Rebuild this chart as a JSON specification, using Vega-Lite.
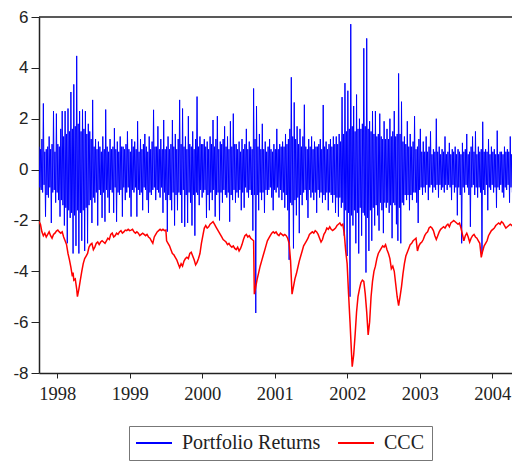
{
"$schema":"https://vega.github.io/schema/vega-lite/v6.json",
"width":473,"height":356,
"autosize":"none",
"padding":{"left":39,"top":17,"right":0,"bottom":89},
"background":"white",
"config":{"view":{"stroke":null}},
"datasets":{
"ret":[
{"t":1998.25,"v":0.9},{"t":1998.26,"v":-0.7},{"t":1998.27,"v":0.8},{"t":1998.28,"v":-0.8},{"t":1998.29,"v":1.2},{"t":1998.30,"v":-0.9},{"t":1998.31,"v":2.6},{"t":1998.32,"v":-0.6},{"t":1998.33,"v":0.7},{"t":1998.34,"v":-1.85},
{"t":1998.35,"v":0.8},{"t":1998.36,"v":-1.0},{"t":1998.37,"v":0.9},{"t":1998.38,"v":-1.1},{"t":1998.39,"v":1.3},{"t":1998.40,"v":-0.7},{"t":1998.41,"v":0.8},{"t":1998.42,"v":-2.1},{"t":1998.43,"v":1.0},{"t":1998.44,"v":-0.9},
{"t":1998.45,"v":2.3},{"t":1998.46,"v":-0.8},{"t":1998.47,"v":0.7},{"t":1998.48,"v":-1.3},{"t":1998.49,"v":2.2},{"t":1998.50,"v":-0.9},{"t":1998.51,"v":1.0},{"t":1998.52,"v":-1.2},{"t":1998.53,"v":0.9},{"t":1998.54,"v":-1.85},
{"t":1998.55,"v":1.6},{"t":1998.56,"v":-1.2},{"t":1998.57,"v":2.3},{"t":1998.58,"v":-1.4},{"t":1998.59,"v":1.3},{"t":1998.60,"v":-2.2},{"t":1998.61,"v":2.3},{"t":1998.62,"v":-1.5},{"t":1998.63,"v":1.4},{"t":1998.64,"v":-2.9},
{"t":1998.65,"v":2.4},{"t":1998.66,"v":-1.6},{"t":1998.67,"v":1.5},{"t":1998.68,"v":-1.9},{"t":1998.69,"v":3.05},{"t":1998.70,"v":-1.7},{"t":1998.71,"v":1.6},{"t":1998.72,"v":-3.3},{"t":1998.73,"v":3.35},{"t":1998.74,"v":-1.8},
{"t":1998.75,"v":1.7},{"t":1998.76,"v":-3.0},{"t":1998.77,"v":4.47},{"t":1998.78,"v":-1.6},{"t":1998.79,"v":1.8},{"t":1998.80,"v":-3.3},{"t":1998.81,"v":2.3},{"t":1998.82,"v":-1.7},{"t":1998.83,"v":1.5},{"t":1998.84,"v":-2.8},
{"t":1998.85,"v":2.36},{"t":1998.86,"v":-1.6},{"t":1998.87,"v":1.6},{"t":1998.88,"v":-3.2},{"t":1998.89,"v":2.3},{"t":1998.90,"v":-1.5},{"t":1998.91,"v":1.4},{"t":1998.92,"v":-2.9},{"t":1998.93,"v":1.8},{"t":1998.94,"v":-1.4},
{"t":1998.95,"v":1.5},{"t":1998.96,"v":-1.2},{"t":1998.97,"v":1.2},{"t":1998.98,"v":-2.1},{"t":1998.99,"v":2.74},{"t":1999.00,"v":-1.1},{"t":1999.01,"v":0.9},{"t":1999.02,"v":-1.3},{"t":1999.03,"v":1.2},{"t":1999.04,"v":-0.9},
{"t":1999.05,"v":0.8},{"t":1999.06,"v":-2.2},{"t":1999.07,"v":1.1},{"t":1999.08,"v":-0.8},{"t":1999.09,"v":0.9},{"t":1999.10,"v":-1.0},{"t":1999.11,"v":0.7},{"t":1999.12,"v":-1.9},{"t":1999.13,"v":1.3},{"t":1999.14,"v":-0.9},
{"t":1999.15,"v":0.8},{"t":1999.16,"v":-2.05},{"t":1999.17,"v":2.36},{"t":1999.18,"v":-0.8},{"t":1999.19,"v":0.9},{"t":1999.20,"v":-1.1},{"t":1999.21,"v":0.7},{"t":1999.22,"v":-1.7},{"t":1999.23,"v":1.2},{"t":1999.24,"v":-0.8},
{"t":1999.25,"v":0.8},{"t":1999.26,"v":-0.9},{"t":1999.27,"v":0.9},{"t":1999.28,"v":-1.7},{"t":1999.29,"v":1.63},{"t":1999.30,"v":-0.7},{"t":1999.31,"v":0.8},{"t":1999.32,"v":-2.05},{"t":1999.33,"v":1.1},{"t":1999.34,"v":-0.9},
{"t":1999.35,"v":0.7},{"t":1999.36,"v":-1.0},{"t":1999.37,"v":1.3},{"t":1999.38,"v":-0.8},{"t":1999.39,"v":0.9},{"t":1999.40,"v":-1.85},{"t":1999.41,"v":0.9},{"t":1999.42,"v":-0.7},{"t":1999.43,"v":0.8},{"t":1999.44,"v":-1.2},
{"t":1999.45,"v":1.0},{"t":1999.46,"v":-0.9},{"t":1999.47,"v":1.5},{"t":1999.48,"v":-0.7},{"t":1999.49,"v":0.8},{"t":1999.50,"v":-1.1},{"t":1999.51,"v":0.7},{"t":1999.52,"v":-1.85},{"t":1999.53,"v":1.2},{"t":1999.54,"v":-0.8},
{"t":1999.55,"v":0.9},{"t":1999.56,"v":-0.9},{"t":1999.57,"v":1.1},{"t":1999.58,"v":-0.7},{"t":1999.59,"v":0.8},{"t":1999.60,"v":-1.85},{"t":1999.61,"v":1.9},{"t":1999.62,"v":-0.8},{"t":1999.63,"v":0.7},{"t":1999.64,"v":-1.0},
{"t":1999.65,"v":1.2},{"t":1999.66,"v":-0.9},{"t":1999.67,"v":0.8},{"t":1999.68,"v":-1.6},{"t":1999.69,"v":1.0},{"t":1999.70,"v":-0.7},{"t":1999.71,"v":1.4},{"t":1999.72,"v":-0.8},{"t":1999.73,"v":0.9},{"t":1999.74,"v":-1.2},
{"t":1999.75,"v":0.7},{"t":1999.76,"v":-1.7},{"t":1999.77,"v":1.3},{"t":1999.78,"v":-0.9},{"t":1999.79,"v":0.8},{"t":1999.80,"v":-1.0},{"t":1999.81,"v":1.1},{"t":1999.82,"v":-0.8},{"t":1999.83,"v":2.35},{"t":1999.84,"v":-0.7},
{"t":1999.85,"v":0.9},{"t":1999.86,"v":-1.2},{"t":1999.87,"v":0.9},{"t":1999.88,"v":-0.8},{"t":1999.89,"v":1.7},{"t":1999.90,"v":-0.9},{"t":1999.91,"v":0.8},{"t":1999.92,"v":-1.1},{"t":1999.93,"v":1.2},{"t":1999.94,"v":-0.7},
{"t":1999.95,"v":0.8},{"t":1999.96,"v":-1.7},{"t":1999.97,"v":1.95},{"t":1999.98,"v":-0.9},{"t":1999.99,"v":0.8},{"t":2000.00,"v":-1.2},{"t":2000.01,"v":0.9},{"t":2000.02,"v":-2.44},{"t":2000.03,"v":1.3},{"t":2000.04,"v":-1.0},
{"t":2000.05,"v":0.8},{"t":2000.06,"v":-1.2},{"t":2000.07,"v":1.0},{"t":2000.08,"v":-1.6},{"t":2000.09,"v":1.95},{"t":2000.10,"v":-0.9},{"t":2000.11,"v":0.9},{"t":2000.12,"v":-2.2},{"t":2000.13,"v":1.4},{"t":2000.14,"v":-1.0},
{"t":2000.15,"v":0.8},{"t":2000.16,"v":-1.6},{"t":2000.17,"v":1.2},{"t":2000.18,"v":-0.9},{"t":2000.19,"v":2.74},{"t":2000.20,"v":-1.0},{"t":2000.21,"v":1.0},{"t":2000.22,"v":-2.1},{"t":2000.23,"v":2.4},{"t":2000.24,"v":-0.8},
{"t":2000.25,"v":0.9},{"t":2000.26,"v":-2.25},{"t":2000.27,"v":1.3},{"t":2000.28,"v":-1.0},{"t":2000.29,"v":0.8},{"t":2000.30,"v":-2.1},{"t":2000.31,"v":2.1},{"t":2000.32,"v":-0.9},{"t":2000.33,"v":1.0},{"t":2000.34,"v":-1.3},
{"t":2000.35,"v":0.9},{"t":2000.36,"v":-2.2},{"t":2000.37,"v":1.5},{"t":2000.38,"v":-1.0},{"t":2000.39,"v":0.8},{"t":2000.40,"v":-2.6},{"t":2000.41,"v":1.2},{"t":2000.42,"v":-0.9},{"t":2000.43,"v":2.87},{"t":2000.44,"v":-1.0},
{"t":2000.45,"v":0.9},{"t":2000.46,"v":-1.4},{"t":2000.47,"v":1.3},{"t":2000.48,"v":-0.8},{"t":2000.49,"v":1.0},{"t":2000.50,"v":-1.1},{"t":2000.51,"v":1.0},{"t":2000.52,"v":-0.9},{"t":2000.53,"v":1.2},{"t":2000.54,"v":-0.8},
{"t":2000.55,"v":0.9},{"t":2000.56,"v":-1.9},{"t":2000.57,"v":1.1},{"t":2000.58,"v":-1.0},{"t":2000.59,"v":0.8},{"t":2000.60,"v":-1.6},{"t":2000.61,"v":1.3},{"t":2000.62,"v":-0.9},{"t":2000.63,"v":1.0},{"t":2000.64,"v":-1.2},
{"t":2000.65,"v":1.95},{"t":2000.66,"v":-0.8},{"t":2000.67,"v":0.9},{"t":2000.68,"v":-1.85},{"t":2000.69,"v":1.2},{"t":2000.70,"v":-1.0},{"t":2000.71,"v":2.1},{"t":2000.72,"v":-0.9},{"t":2000.73,"v":0.8},{"t":2000.74,"v":-2.0},
{"t":2000.75,"v":1.1},{"t":2000.76,"v":-0.9},{"t":2000.77,"v":1.0},{"t":2000.78,"v":-1.3},{"t":2000.79,"v":1.2},{"t":2000.80,"v":-0.8},{"t":2000.81,"v":1.7},{"t":2000.82,"v":-1.0},{"t":2000.83,"v":0.9},{"t":2000.84,"v":-1.1},
{"t":2000.85,"v":1.3},{"t":2000.86,"v":-0.9},{"t":2000.87,"v":0.8},{"t":2000.88,"v":-2.05},{"t":2000.89,"v":1.9},{"t":2000.90,"v":-1.0},{"t":2000.91,"v":0.9},{"t":2000.92,"v":-1.2},{"t":2000.93,"v":2.2},{"t":2000.94,"v":-0.8},
{"t":2000.95,"v":1.0},{"t":2000.96,"v":-1.3},{"t":2000.97,"v":1.0},{"t":2000.98,"v":-0.9},{"t":2000.99,"v":0.8},{"t":2001.00,"v":-1.1},{"t":2001.01,"v":1.1},{"t":2001.02,"v":-0.8},{"t":2001.03,"v":0.7},{"t":2001.04,"v":-1.6},
{"t":2001.05,"v":1.2},{"t":2001.06,"v":-0.9},{"t":2001.07,"v":0.8},{"t":2001.08,"v":-1.5},{"t":2001.09,"v":1.0},{"t":2001.10,"v":-0.7},{"t":2001.11,"v":1.6},{"t":2001.12,"v":-0.9},{"t":2001.13,"v":0.8},{"t":2001.14,"v":-1.1},
{"t":2001.15,"v":1.1},{"t":2001.16,"v":-0.8},{"t":2001.17,"v":0.9},{"t":2001.18,"v":-1.0},{"t":2001.19,"v":0.8},{"t":2001.20,"v":-2.4},{"t":2001.21,"v":3.19},{"t":2001.22,"v":-1.0},{"t":2001.23,"v":1.2},{"t":2001.24,"v":-5.64},
{"t":2001.25,"v":2.5},{"t":2001.26,"v":-1.0},{"t":2001.27,"v":0.9},{"t":2001.28,"v":-1.6},{"t":2001.29,"v":1.4},{"t":2001.30,"v":-0.9},{"t":2001.31,"v":0.8},{"t":2001.32,"v":-1.2},{"t":2001.33,"v":1.8},{"t":2001.34,"v":-0.9},
{"t":2001.35,"v":0.8},{"t":2001.36,"v":-1.7},{"t":2001.37,"v":1.1},{"t":2001.38,"v":-0.8},{"t":2001.39,"v":0.7},{"t":2001.40,"v":-1.0},{"t":2001.41,"v":0.9},{"t":2001.42,"v":-0.8},{"t":2001.43,"v":1.2},{"t":2001.44,"v":-0.7},
{"t":2001.45,"v":0.8},{"t":2001.46,"v":-1.1},{"t":2001.47,"v":0.7},{"t":2001.48,"v":-1.6},{"t":2001.49,"v":1.0},{"t":2001.50,"v":-0.8},{"t":2001.51,"v":0.8},{"t":2001.52,"v":-0.9},{"t":2001.53,"v":1.6},{"t":2001.54,"v":-0.7},
{"t":2001.55,"v":0.8},{"t":2001.56,"v":-1.1},{"t":2001.57,"v":1.0},{"t":2001.58,"v":-0.8},{"t":2001.59,"v":0.9},{"t":2001.60,"v":-1.2},{"t":2001.61,"v":1.1},{"t":2001.62,"v":-0.9},{"t":2001.63,"v":0.9},{"t":2001.64,"v":-1.5},
{"t":2001.65,"v":1.4},{"t":2001.66,"v":-1.0},{"t":2001.67,"v":1.0},{"t":2001.68,"v":-1.6},{"t":2001.69,"v":1.2},{"t":2001.70,"v":-3.55},{"t":2001.71,"v":1.6},{"t":2001.72,"v":-1.3},{"t":2001.73,"v":3.63},{"t":2001.74,"v":-1.4},
{"t":2001.75,"v":1.3},{"t":2001.76,"v":-3.1},{"t":2001.77,"v":2.64},{"t":2001.78,"v":-1.2},{"t":2001.79,"v":1.2},{"t":2001.80,"v":-1.8},{"t":2001.81,"v":1.7},{"t":2001.82,"v":-1.1},{"t":2001.83,"v":1.0},{"t":2001.84,"v":-2.5},
{"t":2001.85,"v":1.6},{"t":2001.86,"v":-1.0},{"t":2001.87,"v":0.9},{"t":2001.88,"v":-1.4},{"t":2001.89,"v":1.3},{"t":2001.90,"v":-0.9},{"t":2001.91,"v":2.55},{"t":2001.92,"v":-0.8},{"t":2001.93,"v":0.9},{"t":2001.94,"v":-1.2},
{"t":2001.95,"v":0.8},{"t":2001.96,"v":-1.9},{"t":2001.97,"v":1.2},{"t":2001.98,"v":-0.8},{"t":2001.99,"v":0.9},{"t":2002.00,"v":-1.1},{"t":2002.01,"v":1.3},{"t":2002.02,"v":-0.9},{"t":2002.03,"v":0.8},{"t":2002.04,"v":-1.2},
{"t":2002.05,"v":1.1},{"t":2002.06,"v":-0.9},{"t":2002.07,"v":0.9},{"t":2002.08,"v":-1.7},{"t":2002.09,"v":0.9},{"t":2002.10,"v":-0.8},{"t":2002.11,"v":1.0},{"t":2002.12,"v":-1.1},{"t":2002.13,"v":1.2},{"t":2002.14,"v":-0.9},
{"t":2002.15,"v":0.8},{"t":2002.16,"v":-1.3},{"t":2002.17,"v":2.54},{"t":2002.18,"v":-1.0},{"t":2002.19,"v":0.9},{"t":2002.20,"v":-1.2},{"t":2002.21,"v":1.1},{"t":2002.22,"v":-0.9},{"t":2002.23,"v":0.8},{"t":2002.24,"v":-1.6},
{"t":2002.25,"v":1.0},{"t":2002.26,"v":-0.9},{"t":2002.27,"v":1.2},{"t":2002.28,"v":-1.0},{"t":2002.29,"v":0.9},{"t":2002.30,"v":-1.3},{"t":2002.31,"v":1.3},{"t":2002.32,"v":-1.0},{"t":2002.33,"v":1.0},{"t":2002.34,"v":-1.7},
{"t":2002.35,"v":1.3},{"t":2002.36,"v":-1.1},{"t":2002.37,"v":1.0},{"t":2002.38,"v":-1.85},{"t":2002.39,"v":1.4},{"t":2002.40,"v":-1.1},{"t":2002.41,"v":1.1},{"t":2002.42,"v":-1.5},{"t":2002.43,"v":2.85},{"t":2002.44,"v":-1.3},
{"t":2002.45,"v":1.4},{"t":2002.46,"v":-2.6},{"t":2002.47,"v":3.4},{"t":2002.48,"v":-1.6},{"t":2002.49,"v":1.5},{"t":2002.50,"v":-3.4},{"t":2002.51,"v":3.1},{"t":2002.52,"v":-1.7},{"t":2002.53,"v":1.6},{"t":2002.54,"v":-5.0},
{"t":2002.55,"v":5.72},{"t":2002.56,"v":-1.8},{"t":2002.57,"v":1.7},{"t":2002.58,"v":-2.2},{"t":2002.59,"v":2.5},{"t":2002.60,"v":-1.6},{"t":2002.61,"v":1.5},{"t":2002.62,"v":-2.9},{"t":2002.63,"v":2.95},{"t":2002.64,"v":-1.7},
{"t":2002.65,"v":1.6},{"t":2002.66,"v":-3.3},{"t":2002.67,"v":2.0},{"t":2002.68,"v":-1.5},{"t":2002.69,"v":1.6},{"t":2002.70,"v":-2.6},{"t":2002.71,"v":1.8},{"t":2002.72,"v":-1.7},{"t":2002.73,"v":4.77},{"t":2002.74,"v":-1.8},
{"t":2002.75,"v":1.7},{"t":2002.76,"v":-4.05},{"t":2002.77,"v":5.16},{"t":2002.78,"v":-1.9},{"t":2002.79,"v":1.6},{"t":2002.80,"v":-3.2},{"t":2002.81,"v":1.9},{"t":2002.82,"v":-1.6},{"t":2002.83,"v":1.5},{"t":2002.84,"v":-2.8},
{"t":2002.85,"v":2.3},{"t":2002.86,"v":-1.5},{"t":2002.87,"v":1.4},{"t":2002.88,"v":-2.2},{"t":2002.89,"v":2.3},{"t":2002.90,"v":-1.4},{"t":2002.91,"v":1.3},{"t":2002.92,"v":-1.8},{"t":2002.93,"v":1.4},{"t":2002.94,"v":-2.4},
{"t":2002.95,"v":2.2},{"t":2002.96,"v":-1.3},{"t":2002.97,"v":1.3},{"t":2002.98,"v":-1.6},{"t":2002.99,"v":1.2},{"t":2003.00,"v":-2.5},{"t":2003.01,"v":1.9},{"t":2003.02,"v":-1.3},{"t":2003.03,"v":1.2},{"t":2003.04,"v":-1.5},
{"t":2003.05,"v":1.6},{"t":2003.06,"v":-1.3},{"t":2003.07,"v":1.2},{"t":2003.08,"v":-1.7},{"t":2003.09,"v":2.0},{"t":2003.10,"v":-1.4},{"t":2003.11,"v":1.3},{"t":2003.12,"v":-2.7},{"t":2003.13,"v":1.5},{"t":2003.14,"v":-1.3},
{"t":2003.15,"v":2.3},{"t":2003.16,"v":-1.4},{"t":2003.17,"v":1.3},{"t":2003.18,"v":-2.15},{"t":2003.19,"v":1.4},{"t":2003.20,"v":-2.8},{"t":2003.21,"v":3.78},{"t":2003.22,"v":-1.5},{"t":2003.23,"v":1.4},{"t":2003.24,"v":-2.9},
{"t":2003.25,"v":2.67},{"t":2003.26,"v":-1.3},{"t":2003.27,"v":1.1},{"t":2003.28,"v":-1.4},{"t":2003.29,"v":1.3},{"t":2003.30,"v":-1.0},{"t":2003.31,"v":1.0},{"t":2003.32,"v":-1.2},{"t":2003.33,"v":1.9},{"t":2003.34,"v":-1.0},
{"t":2003.35,"v":0.9},{"t":2003.36,"v":-1.6},{"t":2003.37,"v":1.4},{"t":2003.38,"v":-1.0},{"t":2003.39,"v":0.9},{"t":2003.40,"v":-1.2},{"t":2003.41,"v":1.1},{"t":2003.42,"v":-0.9},{"t":2003.43,"v":2.1},{"t":2003.44,"v":-0.9},
{"t":2003.45,"v":0.8},{"t":2003.46,"v":-1.3},{"t":2003.47,"v":0.9},{"t":2003.48,"v":-2.1},{"t":2003.49,"v":1.2},{"t":2003.50,"v":-0.8},{"t":2003.51,"v":1.6},{"t":2003.52,"v":-0.7},{"t":2003.53,"v":0.7},{"t":2003.54,"v":-1.0},
{"t":2003.55,"v":1.1},{"t":2003.56,"v":-0.7},{"t":2003.57,"v":0.7},{"t":2003.58,"v":-0.9},{"t":2003.59,"v":1.3},{"t":2003.60,"v":-0.6},{"t":2003.61,"v":0.7},{"t":2003.62,"v":-1.2},{"t":2003.63,"v":0.9},{"t":2003.64,"v":-0.7},
{"t":2003.65,"v":1.5},{"t":2003.66,"v":-0.6},{"t":2003.67,"v":0.6},{"t":2003.68,"v":-0.9},{"t":2003.69,"v":0.8},{"t":2003.70,"v":-0.7},{"t":2003.71,"v":0.7},{"t":2003.72,"v":-0.8},{"t":2003.73,"v":2.0},{"t":2003.74,"v":-0.6},
{"t":2003.75,"v":0.7},{"t":2003.76,"v":-1.1},{"t":2003.77,"v":0.9},{"t":2003.78,"v":-0.6},{"t":2003.79,"v":0.6},{"t":2003.80,"v":-0.8},{"t":2003.81,"v":0.8},{"t":2003.82,"v":-0.7},{"t":2003.83,"v":0.7},{"t":2003.84,"v":-0.9},
{"t":2003.85,"v":1.3},{"t":2003.86,"v":-0.6},{"t":2003.87,"v":0.6},{"t":2003.88,"v":-0.8},{"t":2003.89,"v":0.7},{"t":2003.90,"v":-0.6},{"t":2003.91,"v":1.05},{"t":2003.92,"v":-0.7},{"t":2003.93,"v":0.6},{"t":2003.94,"v":-1.2},
{"t":2003.95,"v":0.8},{"t":2003.96,"v":-0.6},{"t":2003.97,"v":0.7},{"t":2003.98,"v":-0.9},{"t":2003.99,"v":0.9},{"t":2004.00,"v":-0.7},{"t":2004.01,"v":0.6},{"t":2004.02,"v":-1.8},{"t":2004.03,"v":0.8},{"t":2004.04,"v":-0.7},
{"t":2004.05,"v":0.7},{"t":2004.06,"v":-1.0},{"t":2004.07,"v":0.6},{"t":2004.08,"v":-2.9},{"t":2004.09,"v":1.05},{"t":2004.10,"v":-0.7},{"t":2004.11,"v":0.7},{"t":2004.12,"v":-0.9},{"t":2004.13,"v":0.8},{"t":2004.14,"v":-0.6},
{"t":2004.15,"v":1.4},{"t":2004.16,"v":-0.7},{"t":2004.17,"v":0.6},{"t":2004.18,"v":-1.0},{"t":2004.19,"v":0.7},{"t":2004.20,"v":-2.25},{"t":2004.21,"v":0.9},{"t":2004.22,"v":-0.7},{"t":2004.23,"v":1.3},{"t":2004.24,"v":-0.6},
{"t":2004.25,"v":0.7},{"t":2004.26,"v":-1.0},{"t":2004.27,"v":1.5},{"t":2004.28,"v":-0.7},{"t":2004.29,"v":0.6},{"t":2004.30,"v":-1.1},{"t":2004.31,"v":0.9},{"t":2004.32,"v":-0.7},{"t":2004.33,"v":0.7},{"t":2004.34,"v":-0.9},
{"t":2004.35,"v":0.8},{"t":2004.36,"v":-3.3},{"t":2004.37,"v":1.88},{"t":2004.38,"v":-0.8},{"t":2004.39,"v":0.7},{"t":2004.40,"v":-1.0},{"t":2004.41,"v":0.8},{"t":2004.42,"v":-0.6},{"t":2004.43,"v":0.7},{"t":2004.44,"v":-1.6},
{"t":2004.45,"v":1.2},{"t":2004.46,"v":-0.7},{"t":2004.47,"v":0.6},{"t":2004.48,"v":-0.8},{"t":2004.49,"v":0.9},{"t":2004.50,"v":-0.6},{"t":2004.51,"v":0.7},{"t":2004.52,"v":-0.9},{"t":2004.53,"v":0.8},{"t":2004.54,"v":-0.7},
{"t":2004.55,"v":0.6},{"t":2004.56,"v":-1.5},{"t":2004.57,"v":1.53},{"t":2004.58,"v":-0.7},{"t":2004.59,"v":0.6},{"t":2004.60,"v":-0.8},{"t":2004.61,"v":0.7},{"t":2004.62,"v":-0.6},{"t":2004.63,"v":0.7},{"t":2004.64,"v":-0.9},
{"t":2004.65,"v":0.6},{"t":2004.66,"v":-1.1},{"t":2004.67,"v":0.9},{"t":2004.68,"v":-0.7},{"t":2004.69,"v":0.7},{"t":2004.70,"v":-0.8},{"t":2004.71,"v":0.8},{"t":2004.72,"v":-0.6},{"t":2004.73,"v":0.7},{"t":2004.74,"v":-1.3},
{"t":2004.75,"v":1.3},{"t":2004.76,"v":-0.7},{"t":2004.77,"v":0.6},{"t":2004.78,"v":-0.9},{"t":2004.79,"v":0.9}
],
"ccc":[
{"t":1998.25,"v":-2.05},{"t":1998.27,"v":-2.15},{"t":1998.29,"v":-2.45},{"t":1998.31,"v":-2.6},{"t":1998.33,"v":-2.5},{"t":1998.35,"v":-2.65},{"t":1998.37,"v":-2.55},{"t":1998.39,"v":-2.45},{"t":1998.41,"v":-2.6},{"t":1998.43,"v":-2.7},
{"t":1998.45,"v":-2.55},{"t":1998.47,"v":-2.5},{"t":1998.49,"v":-2.42},{"t":1998.51,"v":-2.38},{"t":1998.53,"v":-2.45},{"t":1998.55,"v":-2.5},{"t":1998.57,"v":-2.45},{"t":1998.59,"v":-2.65},{"t":1998.61,"v":-2.8},{"t":1998.63,"v":-2.95},
{"t":1998.65,"v":-3.3},{"t":1998.67,"v":-3.55},{"t":1998.69,"v":-3.85},{"t":1998.71,"v":-4.2},{"t":1998.72,"v":-4.05},{"t":1998.73,"v":-4.35},{"t":1998.75,"v":-4.3},{"t":1998.77,"v":-4.7},{"t":1998.78,"v":-5.0},{"t":1998.80,"v":-4.7},
{"t":1998.82,"v":-4.35},{"t":1998.84,"v":-4.0},{"t":1998.86,"v":-3.7},{"t":1998.88,"v":-3.5},{"t":1998.90,"v":-3.4},{"t":1998.92,"v":-3.3},{"t":1998.94,"v":-3.05},{"t":1998.96,"v":-2.95},{"t":1998.98,"v":-2.9},{"t":1999.00,"v":-3.15},
{"t":1999.02,"v":-3.05},{"t":1999.04,"v":-2.9},{"t":1999.06,"v":-2.85},{"t":1999.08,"v":-2.95},{"t":1999.10,"v":-2.85},{"t":1999.12,"v":-2.8},{"t":1999.14,"v":-2.85},{"t":1999.16,"v":-2.9},{"t":1999.18,"v":-2.8},{"t":1999.20,"v":-2.7},
{"t":1999.22,"v":-2.75},{"t":1999.24,"v":-2.55},{"t":1999.26,"v":-2.5},{"t":1999.28,"v":-2.65},{"t":1999.30,"v":-2.6},{"t":1999.32,"v":-2.5},{"t":1999.34,"v":-2.55},{"t":1999.36,"v":-2.45},{"t":1999.38,"v":-2.4},{"t":1999.40,"v":-2.5},
{"t":1999.42,"v":-2.45},{"t":1999.44,"v":-2.38},{"t":1999.46,"v":-2.4},{"t":1999.48,"v":-2.35},{"t":1999.50,"v":-2.4},{"t":1999.52,"v":-2.38},{"t":1999.54,"v":-2.35},{"t":1999.56,"v":-2.45},{"t":1999.58,"v":-2.5},{"t":1999.60,"v":-2.45},
{"t":1999.62,"v":-2.5},{"t":1999.64,"v":-2.6},{"t":1999.66,"v":-2.55},{"t":1999.68,"v":-2.5},{"t":1999.70,"v":-2.55},{"t":1999.72,"v":-2.6},{"t":1999.74,"v":-2.55},{"t":1999.76,"v":-2.65},{"t":1999.78,"v":-2.7},{"t":1999.80,"v":-2.8},
{"t":1999.82,"v":-2.9},{"t":1999.84,"v":-2.65},{"t":1999.86,"v":-2.55},{"t":1999.88,"v":-2.45},{"t":1999.90,"v":-2.4},{"t":1999.92,"v":-2.35},{"t":1999.94,"v":-2.4},{"t":1999.96,"v":-2.35},{"t":1999.98,"v":-2.4},{"t":2000.00,"v":-2.38},
{"t":2000.01,"v":-2.8},{"t":2000.03,"v":-2.9},{"t":2000.05,"v":-3.0},{"t":2000.07,"v":-3.15},{"t":2000.09,"v":-3.3},{"t":2000.11,"v":-3.35},{"t":2000.13,"v":-3.45},{"t":2000.15,"v":-3.55},{"t":2000.17,"v":-3.7},{"t":2000.19,"v":-3.85},
{"t":2000.21,"v":-3.7},{"t":2000.23,"v":-3.8},{"t":2000.25,"v":-3.6},{"t":2000.27,"v":-3.5},{"t":2000.29,"v":-3.45},{"t":2000.31,"v":-3.5},{"t":2000.33,"v":-3.3},{"t":2000.35,"v":-3.25},{"t":2000.37,"v":-3.4},{"t":2000.39,"v":-3.55},
{"t":2000.41,"v":-3.75},{"t":2000.43,"v":-3.65},{"t":2000.45,"v":-3.5},{"t":2000.47,"v":-3.3},{"t":2000.49,"v":-2.9},{"t":2000.51,"v":-2.6},{"t":2000.53,"v":-2.3},{"t":2000.55,"v":-2.2},{"t":2000.57,"v":-2.3},{"t":2000.59,"v":-2.25},
{"t":2000.61,"v":-2.15},{"t":2000.63,"v":-2.1},{"t":2000.65,"v":-2.05},{"t":2000.67,"v":-2.15},{"t":2000.69,"v":-2.25},{"t":2000.71,"v":-2.35},{"t":2000.73,"v":-2.45},{"t":2000.75,"v":-2.55},{"t":2000.77,"v":-2.65},{"t":2000.79,"v":-2.75},
{"t":2000.81,"v":-2.8},{"t":2000.83,"v":-2.85},{"t":2000.85,"v":-2.95},{"t":2000.87,"v":-2.9},{"t":2000.89,"v":-3.0},{"t":2000.91,"v":-3.05},{"t":2000.93,"v":-3.0},{"t":2000.95,"v":-3.1},{"t":2000.97,"v":-3.15},{"t":2000.99,"v":-3.05},
{"t":2001.01,"v":-3.2},{"t":2001.03,"v":-3.1},{"t":2001.05,"v":-2.95},{"t":2001.07,"v":-2.75},{"t":2001.09,"v":-2.6},{"t":2001.11,"v":-2.55},{"t":2001.13,"v":-2.65},{"t":2001.15,"v":-2.6},{"t":2001.17,"v":-2.7},{"t":2001.19,"v":-2.75},
{"t":2001.21,"v":-2.8},{"t":2001.22,"v":-4.9},{"t":2001.24,"v":-4.6},{"t":2001.26,"v":-4.3},{"t":2001.28,"v":-4.05},{"t":2001.30,"v":-3.8},{"t":2001.32,"v":-3.6},{"t":2001.34,"v":-3.4},{"t":2001.36,"v":-3.2},{"t":2001.38,"v":-3.0},
{"t":2001.40,"v":-2.8},{"t":2001.42,"v":-2.7},{"t":2001.44,"v":-2.6},{"t":2001.46,"v":-2.5},{"t":2001.48,"v":-2.45},{"t":2001.50,"v":-2.5},{"t":2001.52,"v":-2.45},{"t":2001.54,"v":-2.55},{"t":2001.56,"v":-2.6},{"t":2001.58,"v":-2.5},
{"t":2001.60,"v":-2.55},{"t":2001.62,"v":-2.6},{"t":2001.64,"v":-2.55},{"t":2001.66,"v":-2.6},{"t":2001.68,"v":-2.7},{"t":2001.70,"v":-2.9},{"t":2001.72,"v":-3.6},{"t":2001.74,"v":-4.9},{"t":2001.76,"v":-4.6},{"t":2001.78,"v":-4.3},
{"t":2001.80,"v":-4.1},{"t":2001.82,"v":-3.85},{"t":2001.84,"v":-3.6},{"t":2001.86,"v":-3.4},{"t":2001.88,"v":-3.2},{"t":2001.90,"v":-3.0},{"t":2001.92,"v":-2.9},{"t":2001.94,"v":-2.8},{"t":2001.96,"v":-2.7},{"t":2001.98,"v":-2.55},
{"t":2002.00,"v":-2.5},{"t":2002.02,"v":-2.45},{"t":2002.04,"v":-2.5},{"t":2002.06,"v":-2.4},{"t":2002.08,"v":-2.45},{"t":2002.10,"v":-2.55},{"t":2002.12,"v":-2.7},{"t":2002.14,"v":-2.85},{"t":2002.16,"v":-2.75},{"t":2002.18,"v":-2.55},
{"t":2002.20,"v":-2.45},{"t":2002.22,"v":-2.3},{"t":2002.24,"v":-2.35},{"t":2002.26,"v":-2.25},{"t":2002.28,"v":-2.35},{"t":2002.30,"v":-2.4},{"t":2002.32,"v":-2.35},{"t":2002.34,"v":-2.3},{"t":2002.36,"v":-2.2},{"t":2002.38,"v":-2.15},
{"t":2002.40,"v":-2.1},{"t":2002.42,"v":-2.2},{"t":2002.44,"v":-2.15},{"t":2002.46,"v":-2.5},{"t":2002.48,"v":-3.2},{"t":2002.50,"v":-3.7},{"t":2002.52,"v":-4.9},{"t":2002.54,"v":-6.0},{"t":2002.56,"v":-7.2},{"t":2002.57,"v":-7.75},
{"t":2002.59,"v":-7.3},{"t":2002.61,"v":-6.5},{"t":2002.63,"v":-5.6},{"t":2002.65,"v":-5.0},{"t":2002.67,"v":-4.7},{"t":2002.69,"v":-4.45},{"t":2002.71,"v":-4.35},{"t":2002.73,"v":-4.4},{"t":2002.75,"v":-4.9},{"t":2002.77,"v":-5.6},
{"t":2002.79,"v":-6.5},{"t":2002.81,"v":-6.0},{"t":2002.83,"v":-5.0},{"t":2002.85,"v":-4.4},{"t":2002.87,"v":-4.0},{"t":2002.89,"v":-3.8},{"t":2002.91,"v":-3.5},{"t":2002.93,"v":-3.3},{"t":2002.95,"v":-3.2},{"t":2002.97,"v":-3.1},
{"t":2002.99,"v":-3.0},{"t":2003.01,"v":-3.05},{"t":2003.03,"v":-2.95},{"t":2003.05,"v":-3.15},{"t":2003.07,"v":-3.3},{"t":2003.09,"v":-3.5},{"t":2003.11,"v":-3.9},{"t":2003.13,"v":-3.8},{"t":2003.15,"v":-4.0},{"t":2003.17,"v":-4.5},
{"t":2003.19,"v":-5.0},{"t":2003.21,"v":-5.35},{"t":2003.23,"v":-5.0},{"t":2003.25,"v":-4.6},{"t":2003.27,"v":-4.1},{"t":2003.29,"v":-3.7},{"t":2003.31,"v":-3.4},{"t":2003.33,"v":-3.25},{"t":2003.35,"v":-3.1},{"t":2003.37,"v":-2.95},
{"t":2003.39,"v":-2.9},{"t":2003.41,"v":-2.8},{"t":2003.43,"v":-2.75},{"t":2003.45,"v":-2.7},{"t":2003.47,"v":-3.2},{"t":2003.49,"v":-3.0},{"t":2003.51,"v":-2.9},{"t":2003.53,"v":-2.85},{"t":2003.55,"v":-2.75},{"t":2003.57,"v":-2.6},
{"t":2003.59,"v":-2.5},{"t":2003.61,"v":-2.45},{"t":2003.63,"v":-2.3},{"t":2003.65,"v":-2.25},{"t":2003.67,"v":-2.3},{"t":2003.69,"v":-2.4},{"t":2003.71,"v":-2.6},{"t":2003.73,"v":-2.75},{"t":2003.75,"v":-2.6},{"t":2003.77,"v":-2.45},
{"t":2003.79,"v":-2.35},{"t":2003.81,"v":-2.3},{"t":2003.83,"v":-2.25},{"t":2003.85,"v":-2.3},{"t":2003.87,"v":-2.2},{"t":2003.89,"v":-2.15},{"t":2003.91,"v":-2.25},{"t":2003.93,"v":-2.1},{"t":2003.95,"v":-2.05},{"t":2003.97,"v":-2.0},
{"t":2003.99,"v":-2.05},{"t":2004.01,"v":-2.1},{"t":2004.03,"v":-2.15},{"t":2004.05,"v":-2.1},{"t":2004.07,"v":-2.3},{"t":2004.09,"v":-2.55},{"t":2004.11,"v":-2.8},{"t":2004.13,"v":-2.6},{"t":2004.15,"v":-2.5},{"t":2004.17,"v":-2.65},
{"t":2004.19,"v":-2.85},{"t":2004.21,"v":-2.7},{"t":2004.23,"v":-2.6},{"t":2004.25,"v":-2.55},{"t":2004.27,"v":-2.65},{"t":2004.29,"v":-2.7},{"t":2004.31,"v":-2.8},{"t":2004.33,"v":-2.9},{"t":2004.35,"v":-3.45},{"t":2004.37,"v":-3.2},
{"t":2004.39,"v":-3.0},{"t":2004.41,"v":-2.9},{"t":2004.43,"v":-2.8},{"t":2004.45,"v":-2.6},{"t":2004.47,"v":-2.5},{"t":2004.49,"v":-2.4},{"t":2004.51,"v":-2.35},{"t":2004.53,"v":-2.3},{"t":2004.55,"v":-2.2},{"t":2004.57,"v":-2.15},
{"t":2004.59,"v":-2.1},{"t":2004.61,"v":-2.15},{"t":2004.63,"v":-2.05},{"t":2004.65,"v":-2.1},{"t":2004.67,"v":-2.2},{"t":2004.69,"v":-2.3},{"t":2004.71,"v":-2.25},{"t":2004.73,"v":-2.2},{"t":2004.75,"v":-2.15},{"t":2004.77,"v":-2.2},{"t":2004.79,"v":-2.15}
]},
"layer":[
{"data":{"name":"ret"},"mark":{"type":"line","strokeWidth":1,"clip":true},
"encoding":{
"x":{"field":"t","type":"quantitative","scale":{"domain":[1998.25,2004.774],"nice":false,"zero":false},
"axis":{"title":null,"grid":false,"values":[1998.5,1998.75,1999,1999.25,1999.5,1999.75,2000,2000.25,2000.5,2000.75,2001,2001.25,2001.5,2001.75,2002,2002.25,2002.5,2002.75,2003,2003.25,2003.5,2003.75,2004,2004.25,2004.5,2004.75],
"labelExpr":"datum.value % 1 == 0.5 ? floor(datum.value) + '' : ''",
"tickSize":{"condition":{"test":"datum.value % 1 == 0","value":10},"value":5},
"labelFont":"Liberation Serif","labelFontSize":18.5,"labelColor":"#222","labelPadding":6,"labelFlush":false,"labelOverlap":false,
"tickColor":"#222","tickWidth":1,"domainColor":"#222","domainWidth":1.5}},
"y":{"field":"v","type":"quantitative","scale":{"domain":[-8,6],"nice":false,"zero":false},
"axis":{"title":null,"grid":false,"values":[-8,-6,-4,-2,0,2,4,6],"labelExpr":"datum.value + ''",
"tickSize":8,"labelPadding":3,"labelFont":"Liberation Sans","labelFontSize":17,"labelColor":"#222",
"tickColor":"#222","tickWidth":1,"domainColor":"#222","domainWidth":1.5}},
"color":{"datum":"Portfolio Returns","type":"nominal","scale":{"domain":["Portfolio Returns","CCC"],"range":["#0000ff","#ff0000"]},
"legend":{"orient":"none","legendX":90,"legendY":409,"direction":"horizontal","symbolType":"M-2,0H2","symbolSize":324,"symbolStrokeWidth":2,"symbolOffset":8,"labelOffset":18,"labelFont":"Liberation Serif","labelFontSize":20,"labelColor":"#222","strokeColor":"#777","fillColor":"white","padding":7,"columnPadding":13,"title":null,"labelLimit":300}}}},
{"data":{"name":"ccc"},"mark":{"type":"line","strokeWidth":1.5,"clip":true},
"encoding":{"x":{"field":"t","type":"quantitative"},"y":{"field":"v","type":"quantitative"},
"color":{"datum":"CCC","type":"nominal"}}},
{"data":{"values":[{}]},"mark":{"type":"rule","color":"#222","strokeWidth":1.5},
"encoding":{"y":{"datum":6,"type":"quantitative"}}}
]
}
